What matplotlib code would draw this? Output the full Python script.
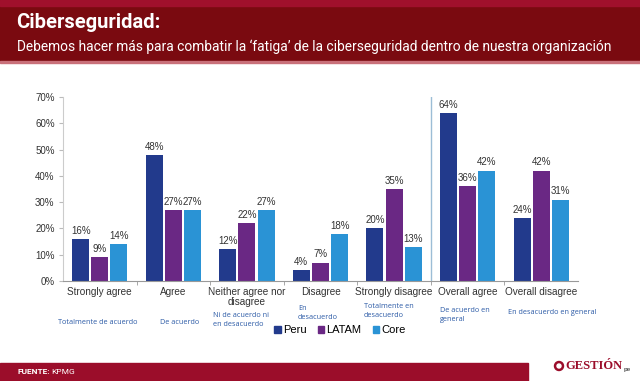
import matplotlib.pyplot as plt
from matplotlib.patches import Rectangle, Circle
import numpy as np

categories = ["Strongly agree", "Agree", "Neither agree nor\ndisagree", "Disagree",
              "Strongly disagree", "Overall agree", "Overall disagree"]
spanish = ["Totalmente de acuerdo", "De acuerdo", "Ni de acuerdo ni\nen desacuerdo",
           "En\ndesacuerdo", "Totalmente en\ndesacuerdo", "De acuerdo en\ngeneral",
           "En desacuerdo en general"]
series = ["Peru", "LATAM", "Core"]
peru = [16, 48, 12, 4, 20, 64, 24]
latam = [9, 27, 22, 7, 35, 36, 42]
core = [14, 27, 27, 18, 13, 42, 31]
colors = ["#223a8c", "#6a2884", "#2a93d5"]

plt.rcParams['font.family'] = ['Liberation Sans', 'DejaVu Sans']

fig = plt.figure(figsize=(6.4, 3.81), dpi=100)

# background layer in pixel coords
bg = fig.add_axes([0, 0, 1, 1], zorder=0)
bg.set_xlim(0, 640)
bg.set_ylim(381, 0)
bg.axis('off')
bg.add_patch(Rectangle((0, 0), 640, 61, color="#7a0a10"))
bg.add_patch(Rectangle((0, 0), 640, 6, color="#a0102c"))
bg.add_patch(Rectangle((0, 61), 640, 2, color="#c9707a"))
bg.add_patch(Rectangle((0, 363), 528, 18, color="#9b0d2a"))
bg.text(16, 22, "Ciberseguridad:", color="white", fontsize=14.5, fontweight="bold",
        family="Roboto", va="center", ha="left")
bg.text(17, 47, "Debemos hacer más para combatir la ‘fatiga’ de la ciberseguridad dentro de nuestra organización",
        color="white", fontsize=9.9, family="Roboto", va="center", ha="left")
bg.text(17, 372, "FUENTE:", color="white", fontsize=6, fontweight="bold", family="Roboto",
        va="center", ha="left")
bg.text(51, 372, "KPMG", color="white", fontsize=6, family="Roboto", va="center", ha="left")

# logo
bg.add_patch(Circle((559, 366), 4.5, color="#9b0d2a"))
bg.add_patch(Circle((559, 366), 2, color="white"))
bg.text(565, 366, "GESTIÓN", color="#9b0d2a", fontsize=9, fontweight="bold",
        family="Liberation Serif", va="center", ha="left")
bg.text(624, 369, "pe", color="#555555", fontsize=4.5, fontweight="bold", va="center", ha="left")

ax = fig.add_axes([63 / 640, 1 - 281 / 381, 515 / 640, 184 / 381], zorder=1)
ax.patch.set_alpha(0)
x = np.arange(len(categories)) + 0.5
width = 0.23
offsets = [-0.26, 0, 0.26]
for vals, off, c, name in zip([peru, latam, core], offsets, colors, series):
    bars = ax.bar(x + off, vals, width, color=c, label=name)
    for b, v in zip(bars, vals):
        ax.text(b.get_x() + b.get_width() / 2, v + 1.2, f"{v}%", ha="center", va="bottom",
                fontsize=7, color="#333333")

ax.set_xlim(0, 7)
ax.set_ylim(0, 70)
ax.set_yticks(range(0, 71, 10))
ax.set_yticklabels([f"{t}%" for t in range(0, 71, 10)], fontsize=7, color="#333333")
ax.set_xticks(x)
ax.set_xticklabels(categories, fontsize=7.2, color="#333333", linespacing=1.0)
ax.tick_params(axis='x', length=0, pad=4)
ax.tick_params(axis='y', length=3, color="#bbbbbb", pad=3)
ax.set_xticks(range(1, 7), minor=True)
ax.tick_params(axis='x', which='minor', length=3, color="#999999")
for s in ["top", "right"]:
    ax.spines[s].set_visible(False)
ax.spines["left"].set_color("#cccccc")
ax.spines["bottom"].set_color("#999999")
ax.axvline(5.0, color="#9cbdd6", lw=1)

# spanish labels (pixel coords)
sp_pos = [(58, 323), (160, 323), (213, 320), (298, 313), (364, 311), (440, 315), (508, 312)]
for (px, py), lab in zip(sp_pos, spanish):
    bg.text(px, py, lab, color="#2b5aa6", fontsize=5.2, family="Open Sans", va="center",
            ha="left", linespacing=1.3)

handles = [Rectangle((0, 0), 1, 1, color=c) for c in colors]
fig.legend(handles, series, loc="center", bbox_to_anchor=(340 / 640, 1 - 330 / 381),
           ncol=3, frameon=False, fontsize=8, handlelength=0.6, handleheight=0.6,
           handletextpad=0.2, columnspacing=1.0)

fig.savefig("out.png", dpi=100)
